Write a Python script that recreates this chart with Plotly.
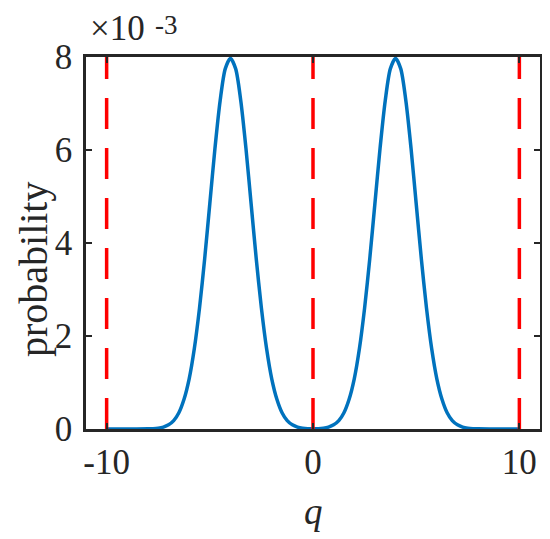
import plotly.graph_objects as go

# position q
q = [-10, -9, -8, -7.75, -7.5, -7.25, -7, -6.75, -6.5, -6.25, -6, -5.75, -5.5, -5.25,
     -5, -4.75, -4.5, -4.25, -4, -3.75, -3.5, -3.25, -3, -2.75, -2.5, -2.25, -2,
     -1.75, -1.5, -1.25, -1, -0.75, -0.5, -0.25, 0,
     0.25, 0.5, 0.75, 1, 1.25, 1.5, 1.75, 2, 2.25, 2.5, 2.75, 3, 3.25, 3.5, 3.75,
     4, 4.25, 4.5, 4.75, 5, 5.25, 5.5, 5.75, 6, 6.25, 6.5, 6.75, 7, 7.25, 7.5, 7.75,
     8, 9, 10]

# probability
prob = [0, 0, 0.000003, 0.000007, 0.000018, 0.000041, 0.000089, 0.00018, 0.00035, 0.00064,
        0.00108, 0.00173, 0.00260, 0.00366, 0.00485, 0.00604, 0.00706, 0.00775, 0.00797,
        0.00775, 0.00706, 0.00604, 0.00485, 0.00366, 0.00260, 0.00173, 0.00108, 0.00064,
        0.00035, 0.00018, 0.000089, 0.000041, 0.000018, 0.000008, 0.000005,
        0.000008, 0.000018, 0.000041, 0.000089, 0.00018, 0.00035, 0.00064, 0.00108,
        0.00173, 0.00260, 0.00366, 0.00485, 0.00604, 0.00706, 0.00775, 0.00797, 0.00775,
        0.00706, 0.00604, 0.00485, 0.00366, 0.00260, 0.00173, 0.00108, 0.00064, 0.00035,
        0.00018, 0.000089, 0.000041, 0.000018, 0.000007, 0.000003, 0, 0]

# boundary / centre markers
vlines = [-10, 0, 10]

x_tickvals = [-10, 0, 10]
x_ticktext = ["-10", "0", "10"]
y_tickvals = [0, 0.002, 0.004, 0.006, 0.008]
y_ticktext = ["0", "2", "4", "6", "8"]

FONT = "'Liberation Serif', 'Times New Roman', Times, serif"
AX = "#262626"

fig = go.Figure()
fig.add_trace(go.Scatter(x=q, y=prob, mode="lines",
                         line=dict(color="#0072BD", width=3.5, shape="spline", smoothing=0.8),
                         showlegend=False, hoverinfo="skip"))
for v in vlines:
    fig.add_trace(go.Scatter(x=[v, v], y=[0, 0.008], mode="lines",
                             line=dict(color="#FF0000", width=3.5, dash="31px,19px"),
                             showlegend=False, hoverinfo="skip"))

fig.update_layout(
    width=550, height=539,
    margin=dict(l=78, r=18, t=49, b=118, autoexpand=False),
    paper_bgcolor="white", plot_bgcolor="white",
    font=dict(family=FONT, size=35, color=AX),
    xaxis=dict(range=[-11, 11], tickvals=x_tickvals, ticktext=x_ticktext, automargin=False,
               showgrid=False, zeroline=False, showline=True, linecolor=AX, linewidth=2.5,
               mirror="ticks", ticks="inside", ticklen=6, tickwidth=2, tickcolor=AX,
               ticklabelstandoff=0),
    yaxis=dict(range=[0, 0.008], tickvals=y_tickvals, ticktext=y_ticktext, automargin=False,
               showgrid=False, zeroline=False, showline=True, linecolor=AX, linewidth=2.5,
               mirror="ticks", ticks="inside", ticklen=6, tickwidth=2, tickcolor=AX,
               ticklabelstandoff=4),
    annotations=[
        dict(text="×10", xref="paper", yref="paper", x=0.0, y=1.0,
             xanchor="left", yanchor="bottom", xshift=2, yshift=7,
             showarrow=False, font=dict(family=FONT, size=35, color=AX)),
        dict(text="-3", xref="paper", yref="paper", x=0.0, y=1.0,
             xanchor="left", yanchor="bottom", xshift=67, yshift=15,
             showarrow=False, font=dict(family=FONT, size=27, color=AX)),
        dict(text="<i>q</i>", xref="x", yref="paper", x=0, y=0.0,
             xanchor="center", yanchor="top", yshift=-60,
             showarrow=False, font=dict(family=FONT, size=37, color=AX)),
        dict(text="probability", xref="paper", yref="paper", x=0.0, y=0.43,
             xanchor="center", yanchor="middle", xshift=-53, textangle=-90,
             showarrow=False, font=dict(family=FONT, size=40, color=AX)),
    ],
)

fig.write_html("out.html")
